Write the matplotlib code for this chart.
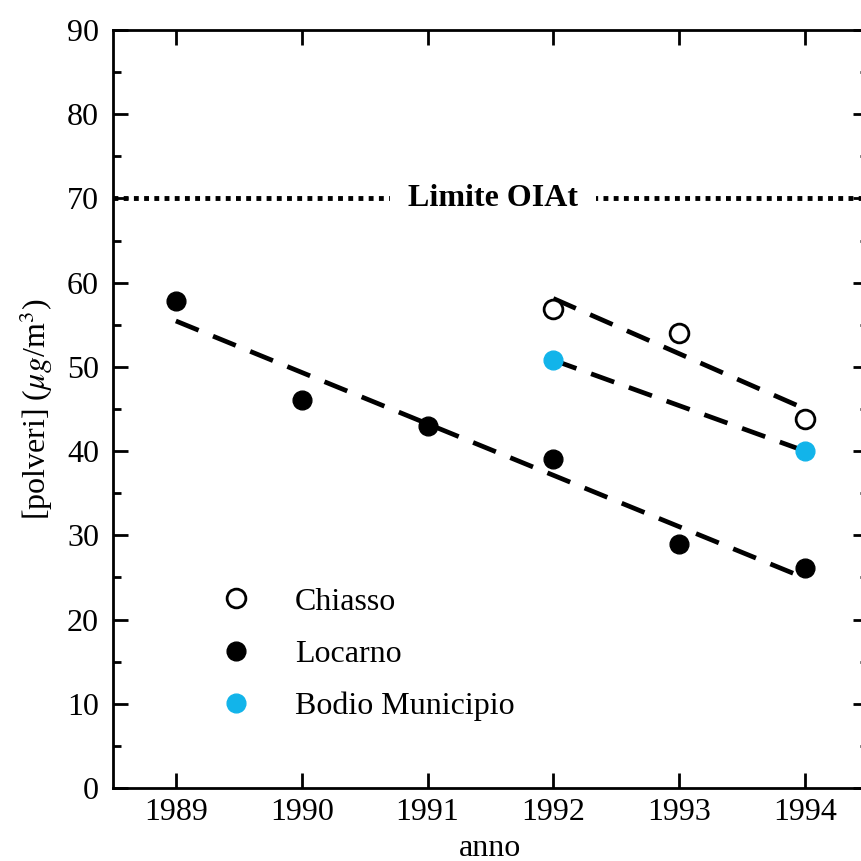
import numpy as np
import matplotlib
matplotlib.use("Agg")
import matplotlib.pyplot as plt

plt.rcParams['font.family'] = ['Liberation Serif', 'DejaVu Serif']
plt.rcParams['mathtext.fontset'] = 'stix'

# dati
anni_locarno = [1989, 1990, 1991, 1992, 1993, 1994]
locarno = [57.8, 46.1, 43.0, 39.1, 29.0, 26.1]
anni_chiasso = [1992, 1993, 1994]
chiasso = [56.9, 54.0, 43.8]
anni_bodio = [1992, 1994]
bodio = [50.8, 40.0]
limite = 70
x_ticks = [1989, 1990, 1991, 1992, 1993, 1994]

blu = '#12b4ea'
fs = 23

fig = plt.figure(figsize=(8.61, 8.61), dpi=100)
ax = fig.add_axes([0.1312, 0.0848, 0.8768, 0.8804])


def fit_line(x, y):
    x = np.asarray(x, dtype=float)
    p = np.polyfit(x, y, 1)
    xs = np.linspace(x.min(), x.max(), 100)
    return xs, np.polyval(p, xs)


dash = dict(color='black', lw=3.4, dashes=(5.2, 3.3), dash_capstyle='butt', zorder=2)
for xx, yy in [(anni_locarno, locarno), (anni_chiasso, chiasso), (anni_bodio, bodio)]:
    xs, ys = fit_line(xx, yy)
    ax.plot(xs, ys, **dash)

ax.axhline(limite, color='black', lw=3.5, dashes=(1, 1.1), zorder=1)
ax.text(1991.52, limite, 'Limite OIAt', fontsize=fs, fontweight='bold',
        ha='center', va='center', zorder=3,
        bbox=dict(boxstyle='square,pad=0.55', facecolor='white', edgecolor='none'))

ms = 13.5
ax.plot(anni_chiasso, chiasso, 'o', ms=ms, mfc='white', mec='black', mew=2,
        ls='none', label='Chiasso', zorder=4)
ax.plot(anni_locarno, locarno, 'o', ms=ms, mfc='black', mec='black',
        ls='none', label='Locarno', zorder=4)
ax.plot(anni_bodio, bodio, 'o', ms=ms, mfc=blu, mec=blu,
        ls='none', label='Bodio Municipio', zorder=4)

ax.set_xlim(1988.5, 1994.5)
ax.set_ylim(0, 90)
ax.set_xticks(x_ticks)
ax.set_xticklabels([str(a) for a in x_ticks])
ax.set_yticks(range(0, 91, 10))
ax.set_yticks(range(5, 90, 10), minor=True)

ax.tick_params(which='both', direction='in', top=True, right=True, labelsize=fs, width=2)
ax.tick_params(which='major', length=11)
ax.tick_params(axis='y', which='major', pad=10)
ax.tick_params(axis='x', which='major', pad=7)
ax.tick_params(which='minor', length=6)
for s in ax.spines.values():
    s.set_linewidth(2)

ax.set_xlabel('anno', fontsize=fs, labelpad=5)
ax.set_ylabel(r'[polveri] ($\mu g$/m$^3$)', fontsize=fs, labelpad=9)

ax.legend(loc='upper left', bbox_to_anchor=(0.11, 0.286), frameon=False,
          fontsize=fs, labelspacing=0.72, handletextpad=1.1, handlelength=1.5,
          borderpad=0)

fig.savefig('out.png', dpi=100)
